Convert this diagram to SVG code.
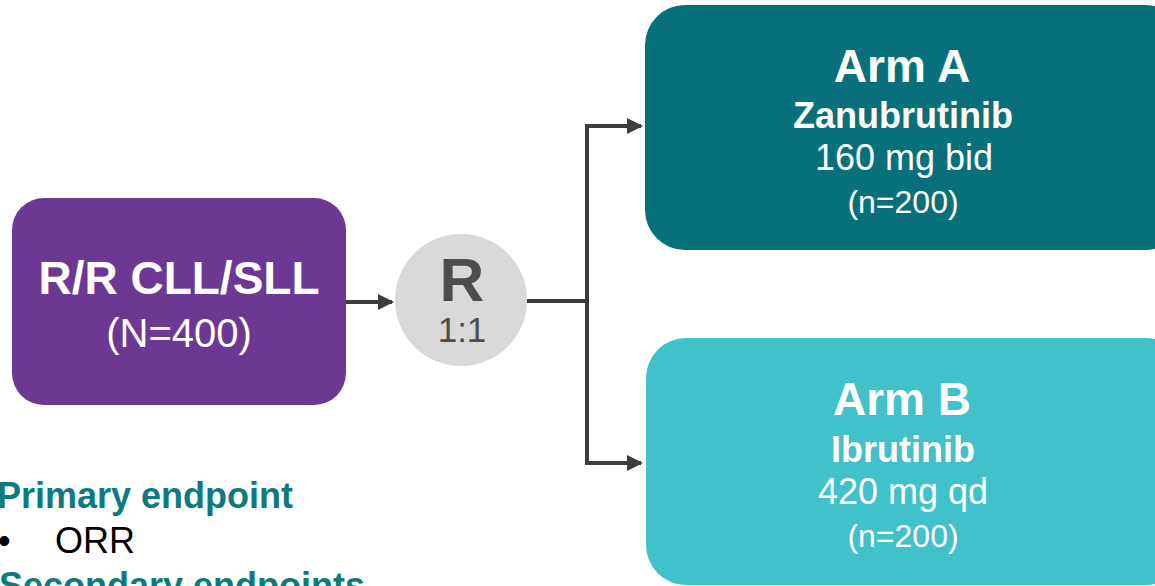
<svg xmlns="http://www.w3.org/2000/svg" width="1155" height="586" viewBox="0 0 1155 586">
<style>
.t{font-family:"Liberation Sans",Arial,sans-serif;text-anchor:middle}
.w{fill:#ffffff}
.b{font-weight:bold}
.conn{stroke:#3d3d3d;fill:none;stroke-width:4}
.h{font-family:"Liberation Sans",Arial,sans-serif;font-weight:bold;fill:#0E7A80;font-size:36px}
.l{font-family:"Liberation Sans",Arial,sans-serif;fill:#000;font-size:36px}
</style>
<defs>
<marker id="ah" markerWidth="4" markerHeight="4" refX="3.5" refY="2" orient="auto" markerUnits="strokeWidth">
<path d="M0,0 L4,2 L0,4 Z" fill="#3d3d3d"/>
</marker>
</defs>
<rect width="1155" height="586" fill="#ffffff"/>
<g id="connectors">
<line class="conn" x1="346" y1="302" x2="392" y2="302" stroke-width="3" marker-end="url(#ah)"/>
<line class="conn" x1="527" y1="301" x2="588" y2="301"/>
<line class="conn" x1="587" y1="125" x2="587" y2="465"/>
<line class="conn" x1="585" y1="126" x2="641" y2="126" stroke-width="3.5" marker-end="url(#ah)"/>
<line class="conn" x1="585" y1="463" x2="641" y2="463" stroke-width="3.5" marker-end="url(#ah)"/>
</g>
<g id="population">
<rect x="12" y="198" width="334" height="207" rx="32" fill="#6C3893"/>
<text class="t w b" x="179" y="294" font-size="46">R/R CLL/SLL</text>
<text class="t w" x="179" y="347" font-size="40">(N=400)</text>
</g>
<g id="randomization">
<circle cx="461" cy="300" r="66" fill="#D9D9D9"/>
<text class="t b" x="462" y="301" font-size="62" fill="#4D4D4D">R</text>
<text class="t" x="462" y="342" font-size="35" fill="#4D4D4D">1:1</text>
</g>
<g id="armA">
<rect x="645" y="5" width="540" height="245" rx="40" fill="#07707A"/>
<text class="t w b" x="902" y="82" font-size="46">Arm A</text>
<text class="t w b" x="903" y="128" font-size="36">Zanubrutinib</text>
<text class="t w" x="904" y="170" font-size="36">160 mg bid</text>
<text class="t w" x="903" y="213" font-size="32">(n=200)</text>
</g>
<g id="armB">
<rect x="646" y="338" width="540" height="247" rx="40" fill="#41C1CA"/>
<text class="t w b" x="902" y="415" font-size="46">Arm B</text>
<text class="t w b" x="903" y="462" font-size="36">Ibrutinib</text>
<text class="t w" x="903" y="504" font-size="36">420 mg qd</text>
<text class="t w" x="903" y="547" font-size="32">(n=200)</text>
</g>
<g id="endpoints">
<text class="h" x="-3" y="508">Primary endpoint</text>
<text class="l" x="-2" y="553">•</text>
<text class="l" x="55" y="553">ORR</text>
<text class="h" x="-1" y="598">Secondary endpoints</text>
</g>
</svg>
